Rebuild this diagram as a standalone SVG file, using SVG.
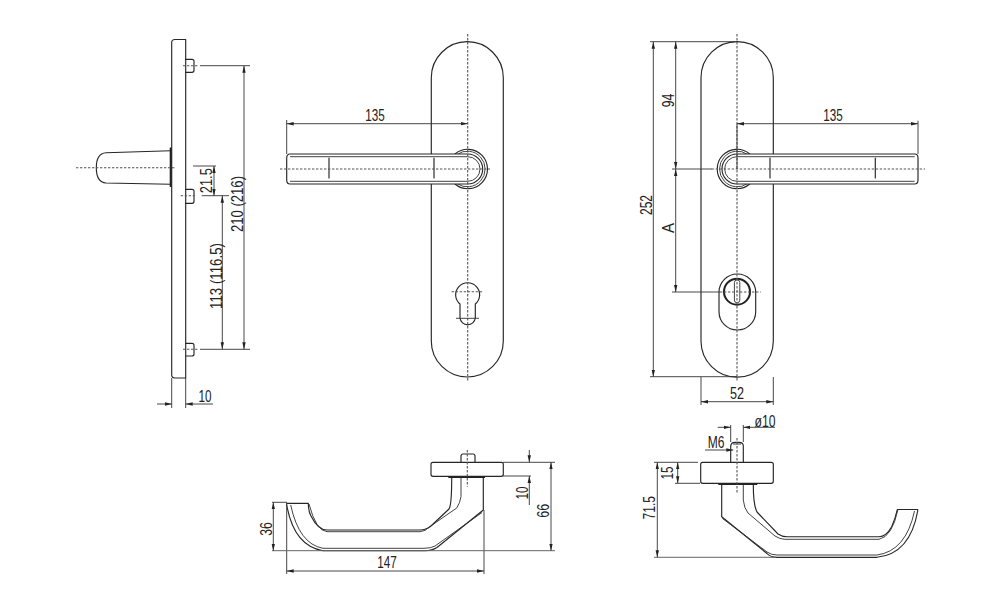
<svg xmlns="http://www.w3.org/2000/svg" width="1000" height="608" viewBox="0 0 1000 608">
<style>
.o{fill:none;stroke:#262626;stroke-width:1.15;stroke-linecap:round;stroke-linejoin:round}
.f{fill:#fff;stroke:#262626;stroke-width:1.15}
.th{fill:none;stroke:#2e2e2e;stroke-width:.9}
.k{fill:none;stroke:#222;stroke-width:2}
.c{fill:none;stroke:#555;stroke-width:1.1;stroke-dasharray:2.4 1.6}
.d{fill:none;stroke:#333;stroke-width:.9}
.a{fill:none;stroke:#333;stroke-width:.9;marker-start:url(#m);marker-end:url(#m)}
.e{fill:none;stroke:#333;stroke-width:.9;marker-end:url(#m)}
text{font-family:"Liberation Sans",Arial,sans-serif;font-size:16px;fill:#222;text-anchor:middle}
</style>
<defs>
<marker id="m" markerUnits="userSpaceOnUse" markerWidth="8" markerHeight="5" refX="7" refY="2.5" orient="auto-start-reverse">
<path d="M0 .8L7 2.5L0 4.2z" fill="#222"/>
</marker>
<g id="lever">
<path class="o" d="M455 154A19.7 19.7 0 1 1 455 184"/>
<path class="th" d="M457 154.5A17.8 17.8 0 1 1 457 183.5"/>
<path class="f" d="M290 154H467.7A15 15 0 0 1 467.7 184H290Q286.7 184 286.7 180V158Q286.7 154 290 154Z"/>
<path class="th" d="M290 156.7H467.7A12.3 12.3 0 0 1 467.7 181.3H290"/>
</g>
</defs>
<rect width="1000" height="608" fill="#fff"/>

<g id="side-view">
<path class="o" d="M175 39.5H185.7V378H175Q171.7 378 171.7 375V42.5Q171.7 39.5 175 39.5Z"/>
<path class="o" d="M185.7 59.3H192Q194 59.3 194 61.3V70.3Q194 72.3 192 72.3H185.7"/>
<path class="o" d="M185.7 189.3H192Q194 189.3 194 191.3V201.3Q194 203.3 192 203.3H185.7"/>
<path class="o" d="M185.7 343.3H192Q194 343.3 194 345.3V354Q194 356 192 356H185.7"/>
<path class="o" d="M170.5 150.7L106 152.7C99 153.2 96.3 158 96.3 167.7C96.3 177 99 182.5 106 183L170.5 184.3"/>
<path class="k" d="M170.7 147.5V187"/>
<path class="c" d="M76 167.7H175M183 65.7H198M180.7 195.7H195M183 349.3H198"/>
</g>

<g id="front-view-left">
<path class="o" d="M431.3 77.7A36 36 0 0 1 503.3 77.7V341A36 36 0 0 1 431.3 341Z"/>
<use href="#lever"/>
<path class="o" d="M329 158V178M434 158V178"/>
<path class="o" d="M460 304V318A7.7 7.7 0 0 0 475.3 318V304A12 12 0 1 0 460 304Z"/>
<path class="c" d="M467.7 34V382M280 169H490M451.7 291.7H483.3"/>
<path class="d" d="M456 318.3H479"/>
</g>

<g id="front-view-right">
<path class="o" d="M701 77.7A36 36 0 0 1 773.3 77.7V341A36 36 0 0 1 701 341Z"/>
<use href="#lever" transform="matrix(-1 0 0 1 1204.7 0)"/>
<path class="o" d="M770 158V178M875.3 158V178"/>
<rect class="o" x="719" y="274" width="36.7" height="56" rx="18.3"/>
<circle class="k" cx="737" cy="291.7" r="13"/>
<rect class="th" x="734.4" y="280" width="5.4" height="22.7" rx="2.5"/>
<path class="c" d="M737 34V382M711.7 169H925M720 292H760.7"/>
</g>

<g id="top-view-left">
<rect class="o" x="431" y="462.3" width="72.3" height="14" rx="2"/>
<path class="o" d="M461 462V456Q461 454 463 454H473Q475 454 475 456V462"/>
<path class="k" d="M448.3 477.2H485" style="stroke-width:1.4"/>
<path class="o" d="M483.3 478V510L437 547.5Q432 550.7 425 550.7H323Q294 546 286.7 505V503.3H308.3Q308.5 512 311 516Q318 530 327 530H420Q426 530 431 526L449 509Q451.7 505 451.7 478"/>
<path class="th" d="M482 512.5L435 546Q431 548.3 424 548.3H323Q299 544 290.7 505M461 478V496.7Q460 503 456.7 508L430 526.5Q425 531.7 420 531.7H327Q316 531 309 504"/>
<path class="c" d="M467.3 450V486.7"/>
</g>

<g id="top-view-right">
<rect class="o" x="700.7" y="462.3" width="72.6" height="21" rx="2"/>
<path class="o" d="M730.7 462.3V446Q731 442.3 735 442.3H739Q743.3 442.3 743.3 446V462.3"/>
<path class="th" d="M733 444H741"/>
<path class="k" d="M718.3 484.3H757.3" style="stroke-width:1.4"/>
<path class="o" d="M721.7 485V516.7L766.7 553.3Q771 557.3 777 557.3H877Q910 554 917.7 511V509.5H897.3Q895.5 518 891.7 526.7Q886 536.7 879 536.7H787Q782 536.7 778 534L757 512Q753.3 505 753.3 485"/>
<path class="th" d="M722.5 518.5L767 552Q771.5 555 777 555H877Q906 551 914.5 511M743.3 485V500Q744 508 748 513L775 536Q780 539.3 785 539.3H879Q892 537 898 509.5"/>
<path class="c" d="M737 438V492.7"/>
</g>

<g id="dimensions">
<path class="d" d="M200 65.7H250M201.7 195.7H229M200 349.3H250M193 166H216M171.7 378V408M185.7 378V408"/>
<path class="a" d="M244 65.7V349.3"/>
<path class="a" d="M222.3 195.7V349.3"/>
<path class="a" d="M214 166V195.7"/>
<path class="e" d="M157 404H171.7"/>
<path class="e" d="M213 404H185.7"/>

<path class="d" d="M286.7 120V154"/>
<path class="a" d="M286.7 123.7H467.7"/>

<path class="d" d="M918 120.7V154M650 41.7H735M650 376.7H737M672 169H712M672 292H720M701 377V405M773.3 377V405M737 123.7V169"/>
<path class="a" d="M737 123.7H918"/>
<path class="a" d="M653.3 41.7V376.7"/>
<path class="a" d="M675.7 41.7V169"/>
<path class="a" d="M675.7 169V292"/>
<path class="a" d="M701 401.7H773.3"/>

<path class="d" d="M272 502.3H287M503 462.3H555M503 476H531M286.7 505V574M484 510V574"/>
<path d="M272 550.7H555" fill="none" stroke="#666" stroke-width="1"/>
<path class="a" d="M273.3 502.3V550.7"/>
<path class="a" d="M286.7 571H484"/>
<path class="a" d="M551 462.3V550.7"/>
<path class="e" d="M529.3 450V462.3"/>
<path class="e" d="M529.3 505V476"/>

<path class="d" d="M654 462.3H698M675 483.3H700M730.7 425V442M743.3 425V442"/>
<path d="M654 557.3H776" fill="none" stroke="#666" stroke-width="1"/>
<path class="a" d="M657.3 462.3V557.3"/>
<path class="a" d="M677.7 462.3V483.3"/>
<path class="e" d="M717.7 427.3H730.7"/>
<path class="e" d="M775 427.3H743.3"/>
<path class="e" d="M705 450H733.3"/>

<text x="205" y="401.7" textLength="13" lengthAdjust="spacingAndGlyphs">10</text>
<text transform="translate(212.3 180.7) rotate(-90)" textLength="25" lengthAdjust="spacingAndGlyphs">21.5</text>
<text transform="translate(243 204) rotate(-90)" textLength="56" lengthAdjust="spacingAndGlyphs">210 (216)</text>
<text transform="translate(221.5 276) rotate(-90)" textLength="66" lengthAdjust="spacingAndGlyphs">113 (116.5)</text>
<text x="375" y="120.7" textLength="19.5" lengthAdjust="spacingAndGlyphs">135</text>
<text x="833" y="120.7" textLength="19.5" lengthAdjust="spacingAndGlyphs">135</text>
<text transform="translate(673.5 100.5) rotate(-90)" textLength="13.5" lengthAdjust="spacingAndGlyphs">94</text>
<text transform="translate(651.7 205) rotate(-90)" textLength="20" lengthAdjust="spacingAndGlyphs">252</text>
<text transform="translate(674 228) rotate(-90)" textLength="10" lengthAdjust="spacingAndGlyphs">A</text>
<text x="737" y="399" textLength="14" lengthAdjust="spacingAndGlyphs">52</text>
<text transform="translate(271.7 529) rotate(-90)" textLength="13.5" lengthAdjust="spacingAndGlyphs">36</text>
<text x="387" y="568" textLength="19.5" lengthAdjust="spacingAndGlyphs">147</text>
<text transform="translate(527.7 493) rotate(-90)" textLength="13" lengthAdjust="spacingAndGlyphs">10</text>
<text transform="translate(549 510.7) rotate(-90)" textLength="14" lengthAdjust="spacingAndGlyphs">66</text>
<text x="716" y="447.7" textLength="16.7" lengthAdjust="spacingAndGlyphs">M6</text>
<text x="765" y="426.7" textLength="21" lengthAdjust="spacingAndGlyphs">ø10</text>
<text transform="translate(673.3 473) rotate(-90)" textLength="13" lengthAdjust="spacingAndGlyphs">15</text>
<text transform="translate(655 507.7) rotate(-90)" textLength="23.5" lengthAdjust="spacingAndGlyphs">71.5</text>
</g>
</svg>
